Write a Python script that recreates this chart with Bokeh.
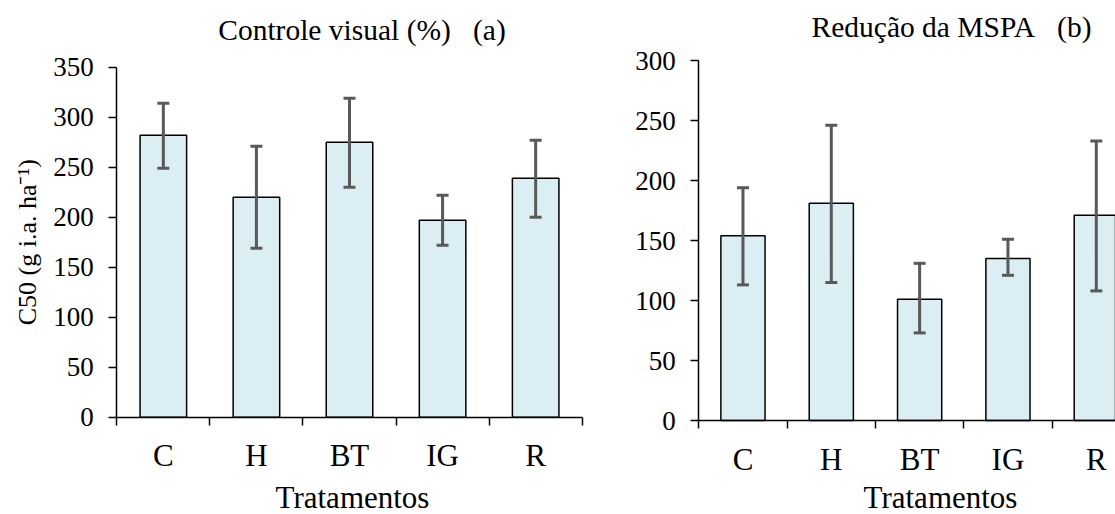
import math
from bokeh.plotting import figure
from bokeh.models import (FixedTicker, Whisker, TeeHead, ColumnDataSource, Range1d,
                          Label, LinearAxis)
from bokeh.embed import file_html
from bokeh.resources import INLINE

# ---- data ----
categories = ["C", "H", "BT", "IG", "R"]
visual_mean = [282, 220, 275, 197, 239]
visual_lower = [249, 169, 230, 172, 200]
visual_upper = [314, 271, 319, 222, 277]
mspa_mean = [154, 181, 101, 135, 171]
mspa_lower = [113, 115, 73, 121, 108]
mspa_upper = [194, 246, 131, 151, 233]
yticks_a = [0, 50, 100, 150, 200, 250, 300, 350]
yticks_b = [0, 50, 100, 150, 200, 250, 300]
title_a = "Controle visual (%)\u00a0\u00a0\u00a0(a)"
title_b = "Redução da MSPA\u00a0\u00a0\u00a0(b)"
ylabel_a = "C50 (g i.a. ha⁻¹)"
xlabel = "Tratamentos"

# ---- layout (pixels on the 1115x514 canvas) ----
W, H = 1115, 514
A_X0, A_UNIT, A_Y0, A_YPX = 116.3, 93.08, 416.7, 1.0   # panel (a)
B_X0, B_UNIT, B_Y0, B_YPX = 698.3, 88.33, 420.0, 1.2   # panel (b)

FONT = "Liberation Serif"
BAR_FILL = "#DBEEF3"
ERR_COLOR = "#595959"


def ax_x(px, x0, unit):
    return (px - x0) / unit


def ax_y(py, y0, ypx):
    return (y0 - py) / ypx


p = figure(width=W, height=H, output_backend="svg", toolbar_location=None, tools="",
           x_range=Range1d(ax_x(0, A_X0, A_UNIT), ax_x(W, A_X0, A_UNIT)),
           y_range=Range1d(ax_y(H, A_Y0, A_YPX), ax_y(0, A_Y0, A_YPX)),
           x_axis_location=None, y_axis_location=None, min_border=0)
p.extra_x_ranges = {"xb": Range1d(ax_x(0, B_X0, B_UNIT), ax_x(W, B_X0, B_UNIT))}
p.extra_y_ranges = {"yb": Range1d(ax_y(H, B_Y0, B_YPX), ax_y(0, B_Y0, B_YPX))}
p.outline_line_color = None
p.xgrid.visible = False
p.ygrid.visible = False
p.background_fill_color = "white"
p.border_fill_color = "white"


def panel(means, lows, ups, yticks, xr, yr, title, title_px, xlabel_px, x0, unit, y0, ypx):
    xs = [i + 0.5 for i in range(len(categories))]
    src = ColumnDataSource(dict(x=xs, top=means, lower=lows, upper=ups))
    kw = dict(x_range_name=xr, y_range_name=yr)
    p.vbar(x="x", top="top", bottom=0, width=0.5, source=src,
           fill_color=BAR_FILL, line_color="black", line_width=1.5, **kw)
    w = Whisker(source=src, base="x", lower="lower", upper="upper",
                line_color=ERR_COLOR, line_width=3, level="overlay",
                upper_head=TeeHead(size=12, line_color=ERR_COLOR, line_width=3),
                lower_head=TeeHead(size=12, line_color=ERR_COLOR, line_width=3), **kw)
    p.add_layout(w)

    xa = LinearAxis(fixed_location=0, bounds=(0, len(categories)),
                    ticker=FixedTicker(ticks=xs, minor_ticks=list(range(len(categories) + 1))),
                    major_label_overrides={x: c for x, c in zip(xs, categories)}, **kw)
    xa.major_tick_out = 0
    xa.major_tick_in = 0
    xa.minor_tick_out = 8
    xa.minor_tick_in = 0
    xa.minor_tick_line_color = "black"
    xa.minor_tick_line_width = 1.5
    xa.axis_line_color = "black"
    xa.axis_line_width = 1.5
    xa.major_label_text_font = FONT
    xa.major_label_text_font_size = "31px"
    xa.major_label_text_color = "black"
    xa.major_label_standoff = 13
    p.add_layout(xa, "below")

    ya = LinearAxis(fixed_location=0, bounds=(yticks[0], yticks[-1]),
                    ticker=FixedTicker(ticks=yticks), **kw)
    ya.major_tick_out = 8
    ya.major_tick_in = 0
    ya.minor_tick_out = 0
    ya.minor_tick_in = 0
    ya.major_tick_line_color = "black"
    ya.major_tick_line_width = 1.5
    ya.axis_line_color = "black"
    ya.axis_line_width = 1.5
    ya.major_label_text_font = FONT
    ya.major_label_text_font_size = "27px"
    ya.major_label_text_color = "black"
    ya.major_label_standoff = 15
    p.add_layout(ya, "left")

    p.add_layout(Label(x=ax_x(title_px[0], x0, unit), y=ax_y(title_px[1], y0, ypx),
                       text=title, text_align="center", text_baseline="alphabetic",
                       text_font=FONT, text_font_size="29.5px", text_color="black", **kw))
    p.add_layout(Label(x=ax_x(xlabel_px[0], x0, unit), y=ax_y(xlabel_px[1], y0, ypx),
                       text=xlabel, text_align="center", text_baseline="alphabetic",
                       text_font=FONT, text_font_size="31px", text_color="black", **kw))


panel(visual_mean, visual_lower, visual_upper, yticks_a, "default", "default",
      title_a, (361.5, 29.5), (352, 496.5), A_X0, A_UNIT, A_Y0, A_YPX)
panel(mspa_mean, mspa_lower, mspa_upper, yticks_b, "xb", "yb",
      title_b, (951, 26.5), (940, 496.5), B_X0, B_UNIT, B_Y0, B_YPX)

# rotated y-axis title of panel (a)
p.add_layout(Label(x=ax_x(27, A_X0, A_UNIT), y=ax_y(241.7, A_Y0, A_YPX), text=ylabel_a,
                   angle=math.pi / 2, text_align="center", text_baseline="alphabetic",
                   text_font=FONT, text_font_size="26px", text_color="black"))

open("out.html", "w").write(file_html(p, INLINE))
